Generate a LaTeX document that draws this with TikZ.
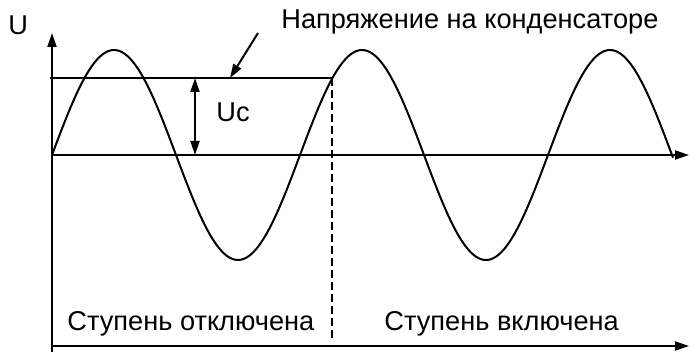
\documentclass[tikz,border=0pt]{standalone}
\usepackage{fontspec}
\setmainfont{Liberation Sans}
\usetikzlibrary{arrows.meta}
\def\colAxis{52}
\def\colUc{195}
\def\colSwitch{332}
\def\colWaveEnd{673}
\def\colEnd{689}
\def\rowTop{33}
\def\rowUc{78}
\def\rowZero{155}
\def\rowBottom{346}
\def\period{248}
\def\ampl{105}

\begin{document}
\begin{tikzpicture}[
    x=0.5pt, y=-0.5pt,
    >={Triangle[length=7pt, width=4.5pt]},
    axisLine/.style  ={->, line width=1pt},
    levelLine/.style ={line width=1pt},
    ucArrow/.style   ={<->, line width=1pt},
    pointer/.style   ={->, line width=1pt},
    switchLine/.style={line width=0.7pt, dash pattern=on 4pt off 2pt},
    wave/.style      ={line width=1pt, line join=round},
    txtLabel/.style  ={font=\fontsize{13.6}{16}\selectfont, inner sep=0pt, anchor=base west},
]
\useasboundingbox (0,0) rectangle (689,352);

% =====================================================
% Axes and levels
% =====================================================
\coordinate (origin)     at (\colAxis,\rowZero);
\coordinate (yTip)       at (\colAxis,\rowTop);
\coordinate (yFoot)      at (\colAxis,352);
\coordinate (xTip)       at (\colEnd,\rowZero);
\coordinate (baseStart)  at (\colAxis,\rowBottom);
\coordinate (baseTip)    at (\colEnd,\rowBottom);
\coordinate (ucStart)    at (\colAxis-2,\rowUc);
\coordinate (ucEnd)      at (\colSwitch,\rowUc);
\coordinate (switchFoot) at (\colSwitch,340);

\draw[axisLine]  (yFoot) -- (yTip);
\draw[axisLine]  (origin) -- (xTip);
\draw[axisLine]  (baseStart) -- (baseTip);
\draw[levelLine] (ucStart) -- (ucEnd);
\draw[switchLine] (ucEnd) -- (switchFoot);

% Uc arrow
\coordinate (ucHigh) at (\colUc,\rowUc);
\coordinate (ucLow)  at (\colUc,\rowZero);
\draw[ucArrow] (ucLow) -- (ucHigh);

% =====================================================
% Voltage curve
% =====================================================
\draw[wave] plot[domain=\colAxis:\colWaveEnd, samples=250, smooth]
    (\x, {\rowZero-\ampl*sin((\x-\colAxis)/\period*360)});

% =====================================================
% Labels
% =====================================================
\node[txtLabel] (uLabel)   at (8,35)    {U};
\node[txtLabel] (capLabel) at (281,29)  {Напряжение на конденсаторе};
\node[txtLabel] (ucLabel)  at (216,122) {Uc};
\node[txtLabel] (offLabel) at (67,330)  {Ступень отключена};
\node[txtLabel] (onLabel)  at (384,330) {Ступень включена};

% pointer to capacitor level
\coordinate (pointerTail) at (258,33);
\coordinate (pointerHead) at (230,\rowUc);
\draw[pointer] (pointerTail) -- (pointerHead);

\end{tikzpicture}
\end{document}
